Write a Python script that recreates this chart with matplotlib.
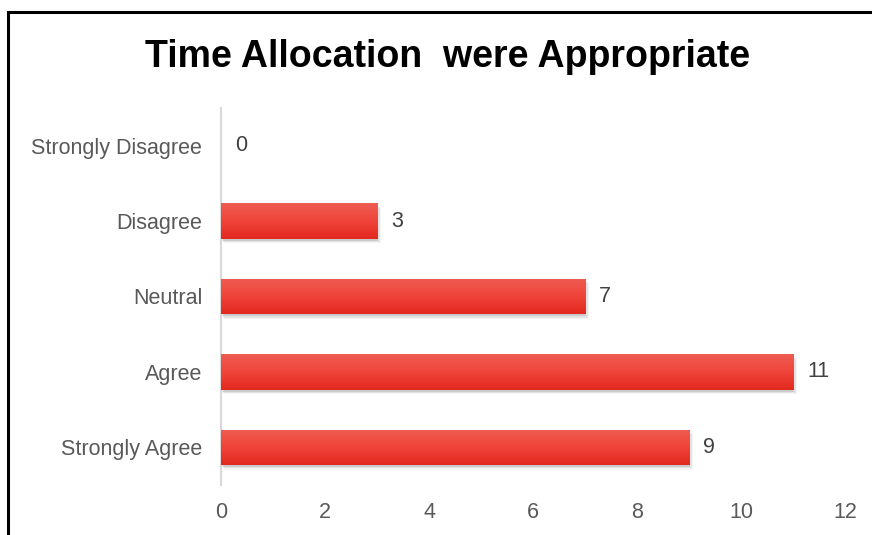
import matplotlib.pyplot as plt
import numpy as np
from matplotlib.patches import Rectangle
from matplotlib.colors import LinearSegmentedColormap

# Survey responses, drawn bottom to top
categories = ["Strongly Agree", "Agree", "Neutral", "Disagree", "Strongly Disagree"]
counts = [9, 11, 7, 3, 0]
x_ticks = [0, 2, 4, 6, 8, 10, 12]

plt.rcParams['font.family'] = ['Liberation Sans', 'DejaVu Sans']

W, H = 872, 535
fig = plt.figure(figsize=(W / 100, H / 100), dpi=100)
fig.patch.set_facecolor("white")

# chart border, running off the right and bottom edges
fig.patches.append(Rectangle((8 / W, -0.05), 1.1, (H - 12) / H + 0.05,
                             transform=fig.transFigure, fill=False,
                             edgecolor="black", linewidth=2.2, zorder=0))

ax = fig.add_axes([221 / W, (H - 485) / H, (845 - 221) / W, (485 - 108) / H])
ax.set_xlim(0, 12)
ax.set_ylim(-0.5, 4.5)

y = np.arange(len(categories))
bar_h = 0.47
grad = LinearSegmentedColormap.from_list("red", ["#e2291f", "#f0443a", "#ee5c52"])

# soft drop shadow under each bar
for yi, v in zip(y, counts):
    if v > 0:
        for k, a in enumerate([0.10, 0.07, 0.04]):
            ax.add_patch(Rectangle((0.02 + 0.02 * k, yi - bar_h / 2 - 0.03 - 0.015 * k),
                                   v + 0.01 * k, bar_h, facecolor="black",
                                   alpha=a, edgecolor="none", zorder=1))

bars = ax.barh(y, counts, height=bar_h, color="#e8342a", zorder=2)
for b in bars:
    if b.get_width() <= 0:
        continue
    x0, y0 = b.get_x(), b.get_y()
    img = ax.imshow(np.linspace(0, 1, 64).reshape(-1, 1), cmap=grad, aspect="auto",
                    extent=(x0, x0 + b.get_width(), y0, y0 + b.get_height()),
                    origin="lower", zorder=3)
    img.set_clip_path(b)

ax.set_xlim(0, 12)
ax.set_ylim(-0.5, 4.5)

for yi, v in zip(y, counts):
    ax.text(v + 0.27, yi, str(v), va="center", ha="left", fontsize=15.5, color="#404040")

ax.set_yticks(y)
ax.set_yticklabels(categories)
ax.set_xticks(x_ticks)
ax.tick_params(axis="both", length=0, labelsize=15.5, labelcolor="#595959")
ax.tick_params(axis="y", pad=13.5)
ax.tick_params(axis="x", pad=12)
for s in ["top", "right", "bottom"]:
    ax.spines[s].set_visible(False)
ax.spines["left"].set_color("#d9d9d9")
ax.spines["left"].set_linewidth(1.5)
ax.set_facecolor("none")

fig.text(448 / W, 1 - 57 / H, "Time Allocation  were Appropriate", ha="center", va="center",
         fontsize=27, fontweight="bold", color="black")

fig.savefig("out.png", dpi=100)
